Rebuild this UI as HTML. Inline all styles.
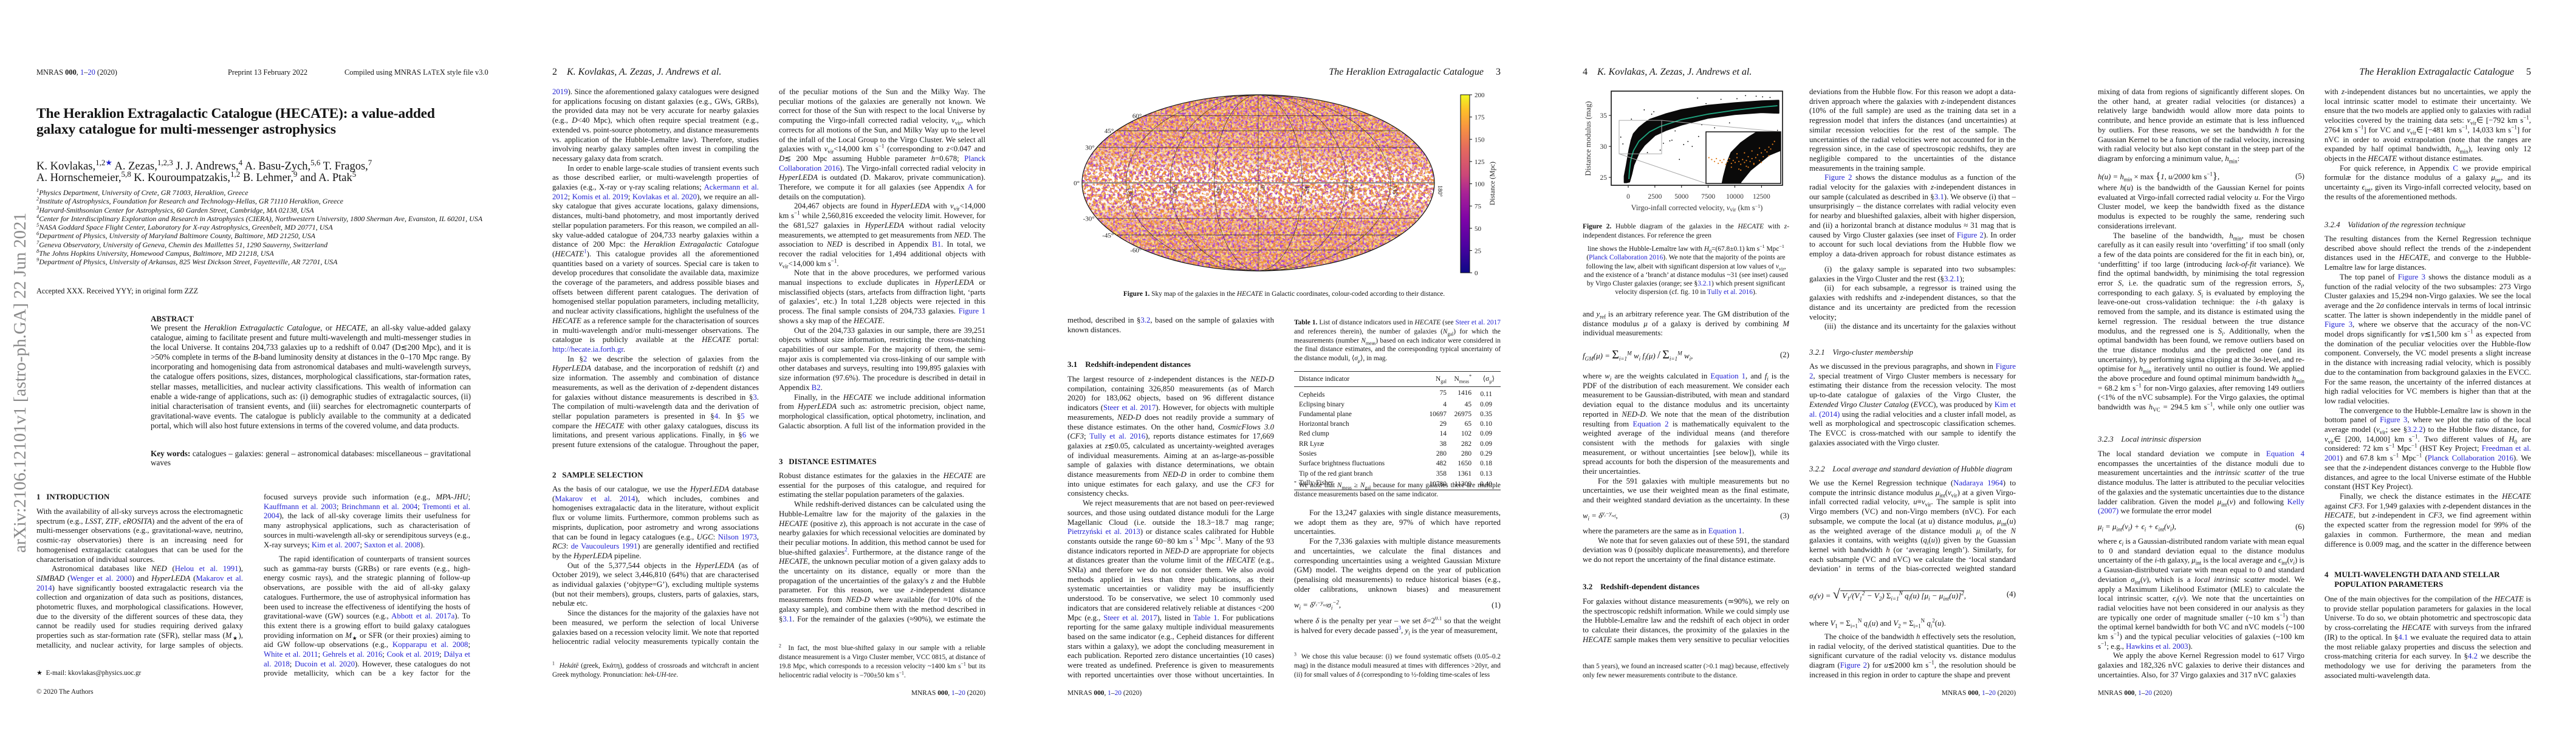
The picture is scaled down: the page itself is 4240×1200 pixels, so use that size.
<!DOCTYPE html>
<html><head><meta charset="utf-8"><title>HECATE paper pages</title>
<style>
html,body{margin:0;padding:0;background:#fff}
body{width:4240px;height:1200px;position:relative;overflow:hidden;font-family:"Liberation Serif",serif;color:#141414}
.page{position:absolute;top:0;width:848px;height:1200px}
.tx{position:absolute;width:340px;font-size:12.8px;line-height:15.7px;text-align:justify;overflow:hidden}
.tx p{margin:0}
.in{text-indent:25px}
a.c{color:#2323d2;text-decoration:none}
sub,sup{font-size:70%;line-height:0}
.h{position:absolute;font-weight:bold;font-size:13px;line-height:16px;white-space:nowrap}
.hi{position:absolute;font-style:italic;font-size:12.8px;line-height:16px;white-space:nowrap}
.run{position:absolute;top:109px;font-style:italic;font-size:16px;line-height:20px;white-space:nowrap}
.foot{position:absolute;top:1134px;font-size:11.4px;line-height:15px;white-space:nowrap}
.fn{position:absolute;width:340px;font-size:11.2px;line-height:15px;text-align:justify;overflow:hidden}
.eq{position:absolute;width:340px;font-size:12.8px;line-height:16px;font-style:italic;white-space:nowrap}
.eq span.n{position:absolute;right:0;font-style:normal}
.cap{position:absolute;font-size:11.4px;line-height:14.5px;text-align:justify;overflow:hidden}
table.t1{position:absolute;border-collapse:collapse;font-size:11.4px;line-height:14.3px}
</style></head>
<body>

<!-- PAGE 1 -->
<div class="page" style="left:0">
  <svg style="position:absolute;left:6px;top:350px" width="44" height="560">
    <text x="0" y="0" transform="translate(36,560) rotate(-90)" font-family="Liberation Serif" font-size="29" fill="#8a8a8a" textLength="560" lengthAdjust="spacingAndGlyphs">arXiv:2106.12101v1  [astro-ph.GA]  22 Jun 2021</text>
  </svg>
  <div style="position:absolute;left:60px;top:111px;font-size:12.4px;line-height:16px;white-space:nowrap">MNRAS <b>000</b>, <a class="c">1</a>–<a class="c">20</a> (2020)</div>
  <div style="position:absolute;left:375px;top:111px;font-size:12.4px;line-height:16px;white-space:nowrap">Preprint 13 February 2022</div>
  <div style="position:absolute;left:567px;top:111px;width:208px;text-align:right;font-size:12.4px;line-height:16px;white-space:nowrap">Compiled using MNRAS L<span style="font-size:9px">A</span>T<span style="font-size:10px">E</span>X style file v3.0</div>
  <div style="position:absolute;left:60px;top:175px;font-size:23.5px;line-height:25.5px;font-weight:bold;white-space:nowrap;letter-spacing:-0.2px">The Heraklion Extragalactic Catalogue (HECATE): a value-added<br>galaxy catalogue for multi-messenger astrophysics</div>
  <div style="position:absolute;left:60px;top:265px;font-size:18.5px;line-height:18.5px;white-space:nowrap">K. Kovlakas,<sup>1,2<span style="color:#2323d2">★</span></sup> A. Zezas,<sup>1,2,3</sup> J. J. Andrews,<sup>4</sup> A. Basu-Zych,<sup>5,6</sup> T. Fragos,<sup>7</sup><br>A. Hornschemeier,<sup>5,8</sup> K. Kouroumpatzakis,<sup>1,2</sup> B. Lehmer,<sup>9</sup> and A. Ptak<sup>5</sup></div>
  <div style="position:absolute;left:60px;top:310px;font-size:12px;line-height:14.25px;font-style:italic;white-space:nowrap">
<sup>1</sup>Physics Department, University of Crete, GR 71003, Heraklion, Greece<br>
<sup>2</sup>Institute of Astrophysics, Foundation for Research and Technology-Hellas, GR 71110 Heraklion, Greece<br>
<sup>3</sup>Harvard-Smithsonian Center for Astrophysics, 60 Garden Street, Cambridge, MA 02138, USA<br>
<sup>4</sup>Center for Interdisciplinary Exploration and Research in Astrophysics (CIERA), Northwestern University, 1800 Sherman Ave, Evanston, IL 60201, USA<br>
<sup>5</sup>NASA Goddard Space Flight Center, Laboratory for X-ray Astrophysics, Greenbelt, MD 20771, USA<br>
<sup>6</sup>Department of Physics, University of Maryland Baltimore County, Baltimore, MD 21250, USA<br>
<sup>7</sup>Geneva Observatory, University of Geneva, Chemin des Maillettes 51, 1290 Sauverny, Switzerland<br>
<sup>8</sup>The Johns Hopkins University, Homewood Campus, Baltimore, MD 21218, USA<br>
<sup>9</sup>Department of Physics, University of Arkansas, 825 West Dickson Street, Fayetteville, AR 72701, USA</div>
  <div style="position:absolute;left:60px;top:471px;font-size:12.3px;line-height:16px;white-space:nowrap">Accepted XXX. Received YYY; in original form ZZZ</div>
  <div class="h" style="left:248px;top:517px">ABSTRACT</div>
  <div class="tx" style="left:248px;top:532px;width:527px;height:210px;font-size:13.2px;line-height:16.1px"><p>We present the <i>Heraklion Extragalactic Catalogue</i>, or <i>HECATE</i>, an all-sky value-added galaxy catalogue, aiming to facilitate present and future multi-wavelength and multi-messenger studies in the local Universe. It contains 204,733 galaxies up to a redshift of 0.047 (D≲200 Mpc), and it is &gt;50% complete in terms of the <i>B</i>-band luminosity density at distances in the 0–170 Mpc range. By incorporating and homogenising data from astronomical databases and multi-wavelength surveys, the catalogue offers positions, sizes, distances, morphological classifications, star-formation rates, stellar masses, metallicities, and nuclear activity classifications. This wealth of information can enable a wide-range of applications, such as: (i) demographic studies of extragalactic sources, (ii) initial characterisation of transient events, and (iii) searches for electromagnetic counterparts of gravitational-wave events. The catalogue is publicly available to the community at a dedicated portal, which will also host future extensions in terms of the covered volume, and data products.</p></div>
  <div class="tx" style="left:248px;top:739px;width:527px;height:32px;font-size:13.2px;line-height:15px"><p><b>Key words:</b> catalogues – galaxies: general – astronomical databases: miscellaneous – gravitational waves</p></div>
  <div class="h" style="left:60px;top:810px">1&nbsp;&nbsp;&nbsp;INTRODUCTION</div>
  <div class="tx" style="left:60px;top:835px;height:236px"><p>With the availability of all-sky surveys across the electromagnetic spectrum (e.g., <i>LSST</i>, <i>ZTF</i>, <i>eROSITA</i>) and the advent of the era of multi-messenger observations (e.g., gravitational-wave, neutrino, cosmic-ray observatories) there is an increasing need for homogenised extragalactic catalogues that can be used for the characterisation of individual sources.</p><p class="in">Astronomical databases like <i>NED</i> (<a class="c">Helou et al. 1991</a>), <i>SIMBAD</i> (<a class="c">Wenger et al. 2000</a>) and <i>HyperLEDA</i> (<a class="c">Makarov et al. 2014</a>) have significantly boosted extragalactic research via the collection and organization of data such as positions, distances, photometric fluxes, and morphological classifications. However, due to the diversity of the different sources of these data, they cannot be readily used for studies requiring derived galaxy properties such as star-formation rate (SFR), stellar mass (<i>M</i><sub>★</sub>), metallicity, and nuclear activity, for large samples of objects. Although detailed catalogues based on</p></div>
  <div class="fn" style="left:60px;top:1101px">★&nbsp; E-mail: kkovlakas@physics.uoc.gr</div>
  <div class="foot" style="left:60px;top:1132px">© 2020 The Authors</div>
  <div class="tx" style="left:434px;top:811px;height:95px"><p>focused surveys provide such information (e.g., <i>MPA-JHU</i>; <a class="c">Kauffmann et al. 2003</a>; <a class="c">Brinchmann et al. 2004</a>; <a class="c">Tremonti et al. 2004</a>), the lack of all-sky coverage limits their usefulness for many astrophysical applications, such as characterisation of sources in multi-wavelength all-sky or serendipitous surveys (e.g., X-ray surveys; <a class="c">Kim et al. 2007</a>; <a class="c">Saxton et al. 2008</a>).</p></div>
  <div class="tx" style="left:434px;top:913px;height:205px"><p class="in">The rapid identification of counterparts of transient sources such as gamma-ray bursts (GRBs) or rare events (e.g., high-energy cosmic rays), and the strategic planning of follow-up observations, are possible with the aid of all-sky galaxy catalogues. Furthermore, the use of astrophysical information has been used to increase the effectiveness of identifying the hosts of gravitational-wave (GW) sources (e.g., <a class="c">Abbott et al. 2017a</a>). To this extent there is a growing effort to build galaxy catalogues providing information on <i>M</i><sub>★</sub> or SFR (or their proxies) aiming to aid GW follow-up observations (e.g., <a class="c">Kopparapu et al. 2008</a>; <a class="c">White et al. 2011</a>; <a class="c">Gehrels et al. 2016</a>; <a class="c">Cook et al. 2019</a>; <a class="c">Dálya et al. 2018</a>; <a class="c">Ducoin et al. 2020</a>). However, these catalogues do not provide metallicity, which can be a key factor for the identification of GW hosts (e.g., <a class="c">Artale et al.</a></p></div>
</div>

<!-- PAGE 2 -->
<div class="page" style="left:848px">
  <div class="run" style="left:61px"><span style="font-style:normal">2</span>&nbsp;&nbsp;&nbsp;&nbsp;K. Kovlakas, A. Zezas, J. Andrews et al.</div>
  <div class="tx" style="left:61px;top:144px;height:597px"><p><a class="c">2019</a>). Since the aforementioned galaxy catalogues were designed for applications focusing on distant galaxies (e.g., GWs, GRBs), the provided data may not be very accurate for nearby galaxies (e.g., <i>D</i>&lt;40 Mpc), which often require special treatment (e.g., extended vs. point-source photometry, and distance measurements vs. application of the Hubble-Lemaître law). Therefore, studies involving nearby galaxy samples often invest in compiling the necessary galaxy data from scratch.</p><p class="in">In order to enable large-scale studies of transient events such as those described earlier, or multi-wavelength properties of galaxies (e.g., X-ray or γ-ray scaling relations; <a class="c">Ackermann et al. 2012</a>; <a class="c">Komis et al. 2019</a>; <a class="c">Kovlakas et al. 2020</a>), we require an all-sky catalogue that gives accurate locations, galaxy dimensions, distances, multi-band photometry, and most importantly derived stellar population parameters. For this reason, we compiled an all-sky value-added catalogue of 204,733 nearby galaxies within a distance of 200 Mpc: the <i>Heraklion Extragalactic Catalogue</i> (<i>HECATE</i><sup><a class="c">1</a></sup>). This catalogue provides all the aforementioned quantities based on a variety of sources. Special care is taken to develop procedures that consolidate the available data, maximize the coverage of the parameters, and address possible biases and offsets between different parent catalogues. The derivation of homogenised stellar population parameters, including metallicity, and nuclear activity classifications, highlight the usefulness of the <i>HECATE</i> as a reference sample for the characterisation of sources in multi-wavelength and/or multi-messenger observations. The catalogue is publicly available at the <i>HECATE</i> portal: <a class="c">http://hecate.ia.forth.gr</a>.</p><p class="in">In §<a class="c">2</a> we describe the selection of galaxies from the <i>HyperLEDA</i> database, and the incorporation of redshift (<i>z</i>) and size information. The assembly and combination of distance measurements, as well as the derivation of <i>z</i>-dependent distances for galaxies without distance measurements is described in §<a class="c">3</a>. The compilation of multi-wavelength data and the derivation of stellar population parameters is presented in §<a class="c">4</a>. In §<a class="c">5</a> we compare the <i>HECATE</i> with other galaxy catalogues, discuss its limitations, and present various applications. Finally, in §<a class="c">6</a> we present future extensions of the catalogue. Throughout the paper, unless stated otherwise, uncertainties correspond to 68% confidence intervals.</p></div>
  <div class="h" style="left:61px;top:774px">2&nbsp;&nbsp;&nbsp;SAMPLE SELECTION</div>
  <div class="tx" style="left:61px;top:798px;height:267px"><p>As the basis of our catalogue, we use the <i>HyperLEDA</i> database (<a class="c">Makarov et al. 2014</a>), which includes, combines and homogenises extragalactic data in the literature, without explicit flux or volume limits. Furthermore, common problems such as misprints, duplication, poor astrometry and wrong associations that can be found in legacy catalogues (e.g., <i>UGC</i>: <a class="c">Nilson 1973</a>, <i>RC3</i>: <a class="c">de Vaucouleurs 1991</a>) are generally identified and rectified by the <i>HyperLEDA</i> pipeline.</p><p class="in">Out of the 5,377,544 objects in the <i>HyperLEDA</i> (as of October 2019), we select 3,446,810 (64%) that are characterised as individual galaxies (‘objtype=G’), excluding multiple systems (but not their members), groups, clusters, parts of galaxies, stars, nebulæ etc.</p><p class="in">Since the distances for the majority of the galaxies have not been measured, we perform the selection of local Universe galaxies based on a recession velocity limit. We note that reported heliocentric radial velocity measurements typically contain the components</p></div>
  <div class="fn" style="left:61px;top:1089px"><sup>1</sup>&nbsp; <i>Hekátē</i> (greek, Εκάτη), goddess of crossroads and witchcraft in ancient Greek mythology. Pronunciation: <i>hek-UH-tee</i>.</div>
  <div class="tx" style="left:434px;top:144px;height:566px"><p>of the peculiar motions of the Sun and the Milky Way. The peculiar motions of the galaxies are generally not known. We correct for those of the Sun with respect to the local Universe by computing the Virgo-infall corrected radial velocity, <i>v</i><sub>vir</sub>, which corrects for all motions of the Sun, and Milky Way up to the level of the infall of the Local Group to the Virgo Cluster. We select all galaxies with <i>v</i><sub>vir</sub>&lt;14,000 km s<sup>−1</sup> (corresponding to <i>z</i>&lt;0.047 and <i>D</i>≲ 200 Mpc assuming Hubble parameter <i>h</i>=0.678; <a class="c">Planck Collaboration 2016</a>). The Virgo-infall corrected radial velocity in <i>HyperLEDA</i> is outdated (D. Makarov, private communication). Therefore, we compute it for all galaxies (see Appendix <a class="c">A</a> for details on the computation).</p><p class="in">204,467 objects are found in <i>HyperLEDA</i> with <i>v</i><sub>vir</sub>&lt;14,000 km s<sup>−1</sup> while 2,560,816 exceeded the velocity limit. However, for the 681,527 galaxies in <i>HyperLEDA</i> without radial velocity measurements, we attempted to get measurements from <i>NED</i>. The association to <i>NED</i> is described in Appendix <a class="c">B1</a>. In total, we recover the radial velocities for 1,494 additional objects with <i>v</i><sub>vir</sub>&lt;14,000 km s<sup>−1</sup>.</p><p class="in">Note that in the above procedures, we performed various manual inspections to exclude duplicates in <i>HyperLEDA</i> or misclassified objects (stars, artefacts from diffraction light, ‘parts of galaxies’, etc.) In total 1,228 objects were rejected in this process. The final sample consists of 204,733 galaxies. <a class="c">Figure 1</a> shows a sky map of the <i>HECATE</i>.</p><p class="in">Out of the 204,733 galaxies in our sample, there are 39,251 objects without size information, restricting the cross-matching capabilities of our sample. For the majority of them, the semi-major axis is complemented via cross-linking of our sample with other databases and surveys, resulting into 199,895 galaxies with size information (97.6%). The procedure is described in detail in Appendix <a class="c">B2</a>.</p><p class="in">Finally, in the <i>HECATE</i> we include additional information from <i>HyperLEDA</i> such as: astrometric precision, object name, morphological classification, optical photometry, inclination, and Galactic absorption. A full list of the information provided in the <i>HECATE</i> is given in Appendix <a class="c">D</a>.</p></div>
  <div class="h" style="left:434px;top:752px">3&nbsp;&nbsp;&nbsp;DISTANCE ESTIMATES</div>
  <div class="tx" style="left:434px;top:776px;height:252px"><p>Robust distance estimates for the galaxies in the <i>HECATE</i> are essential for the purposes of this catalogue, and required for estimating the stellar population parameters of the galaxies.</p><p class="in">While redshift-derived distances can be calculated using the Hubble-Lemaître law for the majority of the galaxies in the <i>HECATE</i> (positive <i>z</i>), this approach is not accurate in the case of nearby galaxies for which recessional velocities are dominated by their peculiar motions. In addition, this method cannot be used for blue-shifted galaxies<sup><a class="c">2</a></sup>. Furthermore, at the distance range of the <i>HECATE</i>, the unknown peculiar motion of a given galaxy adds to the uncertainty on its distance, equally or more than the propagation of the uncertainties of the galaxy's <i>z</i> and the Hubble parameter. For this reason, we use <i>z</i>-independent distance measurements from <i>NED-D</i> where available (for ≈10% of the galaxy sample), and combine them with the method described in §<a class="c">3.1</a>. For the remainder of the galaxies (≈90%), we estimate the distance of the galaxies using a regression</p></div>
  <div class="fn" style="left:434px;top:1060px"><sup>2</sup>&nbsp; In fact, the most blue-shifted galaxy in our sample with a reliable distance measurement is a Virgo Cluster member, VCC 0815, at distance of 19.8 Mpc, which corresponds to a recession velocity ~1400 km s<sup>−1</sup> but its heliocentric radial velocity is −700±50 km s<sup>−1</sup>.</div>
  <div class="foot" style="left:434px;width:340px;text-align:right">MNRAS <b>000</b>, <a class="c">1</a>–<a class="c">20</a> (2020)</div>
</div>

<!-- PAGE 3 -->
<div class="page" style="left:1696px">
  <div class="run" style="left:400px;width:374px;text-align:right">The Heraklion Extragalactic Catalogue&nbsp;&nbsp;&nbsp;&nbsp;&nbsp;<span style="font-style:normal">3</span></div>
  <div class="cap" style="left:61px;top:477px;width:713px;text-align:center;white-space:nowrap"><b>Figure 1.</b> Sky map of the galaxies in the <i>HECATE</i> in Galactic coordinates, colour-coded according to their distance.</div>
  <div class="tx" style="left:61px;top:520px;height:32px"><p>method, described in §<a class="c">3.2</a>, based on the sample of galaxies with known distances.</p></div>
  <div class="h" style="left:61px;top:592px">3.1&nbsp;&nbsp;&nbsp;&nbsp;Redshift-independent distances</div>
  <div class="tx" style="left:61px;top:617px;height:503px"><p>The largest resource of <i>z</i>-independent distances is the <i>NED-D</i> compilation, containing 326,850 measurements (as of March 2020) for 183,062 objects, based on 96 different distance indicators (<a class="c">Steer et al. 2017</a>). However, for objects with multiple measurements, <i>NED-D</i> does not readily provide a summary of these distance estimates. On the other hand, <i>CosmicFlows 3.0</i> (<i>CF3</i>; <a class="c">Tully et al. 2016</a>), reports distance estimates for 17,669 galaxies at <i>z</i>≲0.05, calculated as uncertainty-weighted averages of individual measurements. Aiming at an as-large-as-possible sample of galaxies with distance determinations, we obtain distance measurements from <i>NED-D</i> in order to combine them into unique estimates for each galaxy, and use the <i>CF3</i> for consistency checks.</p><p class="in">We reject measurements that are not based on peer-reviewed sources, and those using outdated distance moduli for the Large Magellanic Cloud (i.e. outside the 18.3−18.7 mag range; <a class="c">Pietrzyński et al. 2013</a>) or distance scales calibrated for Hubble constants outside the range 60−80 km s<sup>−1</sup> Mpc<sup>−1</sup>. Many of the 93 distance indicators reported in <i>NED-D</i> are appropriate for objects at distances greater than the volume limit of the <i>HECATE</i> (e.g., SNIa) and therefore we do not consider them. We also avoid methods applied in less than three publications, as their systematic uncertainties or validity may be insufficiently understood. To be conservative, we select 10 commonly used indicators that are considered relatively reliable at distances &lt;200 Mpc (e.g., <a class="c">Steer et al. 2017</a>), listed in <a class="c">Table 1</a>. For publications reporting for the same galaxy multiple individual measurements based on the same indicator (e.g., Cepheid distances for different stars within a galaxy), we adopt the concluding measurement in each publication. Reported zero distance uncertainties (10 cases) were treated as undefined. Preference is given to measurements with reported uncertainties over those without uncertainties. In total, we associate 43,511 distance measurements with 21,174 galaxies in the <i>HECATE</i>.</p></div>
  <div class="cap" style="left:434px;top:524px;width:340px;line-height:14.8px"><b>Table 1.</b> List of distance indicators used in <i>HECATE</i> (see <a class="c">Steer et al. 2017</a> and references therein), the number of galaxies (<i>N</i><sub>gal</sub>) for which the measurements (number <i>N</i><sub>meas</sub>) based on each indicator were considered in the final distance estimates, and the corresponding typical uncertainty of the distance moduli, ⟨<i>σ<sub>μ</sub></i>⟩, in mag.</div>
  <table class="t1" style="left:434px;top:611px;width:340px">
    <tr style="border-top:1px solid #333;border-bottom:1px solid #333"><td style="padding:5px 8px 5px 8px">Distance indicator</td><td style="text-align:right">N<sub>gal</sub></td><td style="text-align:right">N<sub>meas</sub><sup>*</sup></td><td style="text-align:right;padding-right:10px">⟨σ<sub>μ</sub>⟩</td></tr>
    <tr><td style="padding:5px 8px 0">Cepheids</td><td style="text-align:right">75</td><td style="text-align:right">1416</td><td style="text-align:right;padding-right:14px;padding-top:5px">0.11</td></tr>
    <tr><td style="padding:0 8px">Eclipsing binary</td><td style="text-align:right">4</td><td style="text-align:right">45</td><td style="text-align:right;padding-right:14px">0.09</td></tr>
    <tr><td style="padding:0 8px">Fundamental plane</td><td style="text-align:right">10697</td><td style="text-align:right">26975</td><td style="text-align:right;padding-right:14px">0.35</td></tr>
    <tr><td style="padding:0 8px">Horizontal branch</td><td style="text-align:right">29</td><td style="text-align:right">65</td><td style="text-align:right;padding-right:14px">0.10</td></tr>
    <tr><td style="padding:0 8px">Red clump</td><td style="text-align:right">14</td><td style="text-align:right">102</td><td style="text-align:right;padding-right:14px">0.09</td></tr>
    <tr><td style="padding:0 8px">RR Lyræ</td><td style="text-align:right">38</td><td style="text-align:right">282</td><td style="text-align:right;padding-right:14px">0.09</td></tr>
    <tr><td style="padding:0 8px">Sosies</td><td style="text-align:right">280</td><td style="text-align:right">280</td><td style="text-align:right;padding-right:14px">0.29</td></tr>
    <tr><td style="padding:0 8px">Surface brightness fluctuations</td><td style="text-align:right">482</td><td style="text-align:right">1650</td><td style="text-align:right;padding-right:14px">0.18</td></tr>
    <tr><td style="padding:0 8px">Tip of the red giant branch</td><td style="text-align:right">358</td><td style="text-align:right">1361</td><td style="text-align:right;padding-right:14px">0.13</td></tr>
    <tr style="border-bottom:1px solid #333"><td style="padding:0 8px 4px">Tully-Fisher</td><td style="text-align:right">10780</td><td style="text-align:right">11309</td><td style="text-align:right;padding-right:14px">0.40</td></tr>
  </table>
  <div class="cap" style="left:434px;top:792px;width:340px;line-height:14.5px"><sup>*</sup> We note that <i>N</i><sub>meas</sub> ≥ <i>N</i><sub>gal</sub> because for many galaxies there are multiple distance measurements based on the same indicator.</div>
  <div class="tx" style="left:434px;top:837px;height:142px"><p class="in">For the 13,247 galaxies with single distance measurements, we adopt them as they are, 97% of which have reported uncertainties.</p><p class="in">For the 7,336 galaxies with multiple distance measurements and uncertainties, we calculate the final distances and corresponding uncertainties using a weighted Gaussian Mixture (GM) model. The weights depend on the year of publication (penalising old measurements) to reduce historical biases (e.g., older calibrations, unknown biases) and measurement uncertainties. The weight for the <i>i</i>-th measurement is:</p></div>
  <div class="eq" style="left:434px;top:988px">w<sub>i</sub> = δ<sup>y<sub>i</sub>−y<sub>ref</sub></sup>σ<sub>i</sub><sup>−2</sup>,<span class="n">(1)</span></div>
  <div class="tx" style="left:434px;top:1015px;height:32px"><p>where <i>δ</i> is the penalty per year – we set <i>δ</i>=2<sup>0.1</sup> so that the weight is halved for every decade passed<sup><a class="c">3</a></sup>, <i>y<sub>i</sub></i> is the year of measurement,</p></div>
  <div class="fn" style="left:434px;top:1074px;height:46px"><sup>3</sup>&nbsp; We chose this value because: (i) we found systematic offsets (0.05–0.2 mag) in the distance moduli measured at times with differences &gt;20yr, and (ii) for small values of <i>δ</i> (corresponding to ½-folding time-scales of less</div>
  <div class="foot" style="left:61px">MNRAS <b>000</b>, <a class="c">1</a>–<a class="c">20</a> (2020)</div>
</div>

<!-- PAGE 4 -->
<div class="page" style="left:2544px">
  <div class="run" style="left:61px"><span style="font-style:normal">4</span>&nbsp;&nbsp;&nbsp;&nbsp;K. Kovlakas, A. Zezas, J. Andrews et al.</div>
  <div class="cap" style="left:61px;top:366px;width:340px;height:30px"><b>Figure 2.</b> Hubble diagram of the galaxies in the <i>HECATE</i> with <i>z</i>-independent distances. For reference the green</div>
  <div class="cap" style="left:61px;top:403px;width:340px;text-align:center;line-height:14.3px">line shows the Hubble-Lemaître law with <i>H</i><sub>0</sub>=(67.8±0.1) km s<sup>−1</sup> Mpc<sup>−1</sup> (<a class="c">Planck Collaboration 2016</a>). We note that the majority of the points are following the law, albeit with significant dispersion at low values of <i>v</i><sub>vir</sub>, and the existence of a ‘branch’ at distance modulus ~31 (see inset) caused by Virgo Cluster galaxies (orange; see §<a class="c">3.2.1</a>) which present significant velocity dispersion (cf. fig. 10 in <a class="c">Tully et al. 2016</a>).</div>
  <div class="tx" style="left:61px;top:510px;height:48px"><p>and <i>y</i><sub>ref</sub> is an arbitrary reference year. The GM distribution of the distance modulus <i>μ</i> of a galaxy is derived by combining <i>M</i> individual measurements:</p></div>
  <div class="eq" style="left:61px;top:576px;font-size:13px">f<sub>GM</sub>(μ) = <span style="font-style:normal;font-size:20px">Σ</span><sub>i=1</sub><sup>M</sup> w<sub>i</sub> f<sub>i</sub>(μ) <span style="font-style:normal;font-size:18px">/</span> <span style="font-style:normal;font-size:20px">Σ</span><sub>i=1</sub><sup>M</sup> w<sub>i</sub>,<span class="n">(2)</span></div>
  <div class="tx" style="left:61px;top:612px;height:220px"><p>where <i>w<sub>i</sub></i> are the weights calculated in <a class="c">Equation 1</a>, and <i>f<sub>i</sub></i> is the PDF of the distribution of each measurement. We consider each measurement to be Gaussian-distributed, with mean and standard deviation equal to the distance modulus and its uncertainty reported in <i>NED-D</i>. We note that the mean of the distribution resulting from <a class="c">Equation 2</a> is mathematically equivalent to the weighted average of the individual means (and therefore consistent with the methods for galaxies with single measurement, or without uncertainties [see below]), while its spread accounts for both the dispersion of the measurements and their uncertainties.</p><p class="in">For the 591 galaxies with multiple measurements but no uncertainties, we use their weighted mean as the final estimate, and their weighted standard deviation as the uncertainty. In these cases, the weights are:</p></div>
  <div class="eq" style="left:61px;top:841px">w<sub>i</sub> = δ<sup>y<sub>i</sub>−y<sub>ref</sub></sup>,<span class="n">(3)</span></div>
  <div class="tx" style="left:61px;top:867px;height:63px"><p>where the parameters are the same as in <a class="c">Equation 1</a>.</p><p class="in">We note that for seven galaxies out of these 591, the standard deviation was 0 (possibly duplicate measurements), and therefore we do not report the uncertainty of the final distance estimate.</p></div>
  <div class="h" style="left:61px;top:958px">3.2&nbsp;&nbsp;&nbsp;&nbsp;Redshift-dependent distances</div>
  <div class="tx" style="left:61px;top:983px;height:79px"><p>For galaxies without distance measurements (≃90%), we rely on the spectroscopic redshift information. While we could simply use the Hubble-Lemaître law and the redshift of each object in order to calculate their distances, the proximity of the galaxies in the <i>HECATE</i> sample makes them very sensitive to peculiar velocities and local</p></div>
  <div class="fn" style="left:61px;top:1090px">than 5 years), we found an increased scatter (&gt;0.1 mag) because, effectively only few newer measurements contribute to the distance.</div>
  <div class="tx" style="left:434px;top:144px;height:283px"><p>deviations from the Hubble flow. For this reason we adopt a data-driven approach where the galaxies with <i>z</i>-independent distances (10% of the full sample) are used as the training data set in a regression model that infers the distances (and uncertainties) at similar recession velocities for the rest of the sample. The uncertainties of the radial velocities were not accounted for in the regression since, in the case of spectroscopic redshifts, they are negligible compared to the uncertainties of the distance measurements in the training sample.</p><p class="in"><a class="c">Figure 2</a> shows the distance modulus as a function of the radial velocity for the galaxies with <i>z</i>-independent distances in our sample (calculated as described in §<a class="c">3.1</a>). We observe (i) that – unsurprisingly – the distance correlates with radial velocity even for nearby and blueshifted galaxies, albeit with higher dispersion, and (ii) a horizontal branch at distance modulus ≈ 31 mag that is caused by Virgo Cluster galaxies (see inset of <a class="c">Figure 2</a>). In order to account for such local deviations from the Hubble flow we employ a data-driven approach for robust distance estimates as follows:</p></div>
  <div class="tx" style="left:434px;top:436px;height:111px"><p class="in">(i)&nbsp; the galaxy sample is separated into two subsamples: galaxies in the Virgo Cluster and the rest (§<a class="c">3.2.1</a>);</p><p class="in">(ii)&nbsp; for each subsample, a regressor is trained using the galaxies with redshifts and <i>z</i>-independent distances, so that the distance and its uncertainty are predicted from the recession velocity;</p><p class="in">(iii)&nbsp; the distance and its uncertainty for the galaxies without <i>z</i>-independent measurements, is predicted using the two regressors.</p></div>
  <div class="hi" style="left:434px;top:572px">3.2.1&nbsp;&nbsp;&nbsp;&nbsp;Virgo-cluster membership</div>
  <div class="tx" style="left:434px;top:596px;height:142px"><p>As we discussed in the previous paragraphs, and shown in <a class="c">Figure 2</a>, special treatment of Virgo Cluster members is necessary for estimating their distance from the recession velocity. The most up-to-date catalogue of galaxies of the Virgo Cluster, the <i>Extended Virgo Cluster Catalog</i> (<i>EVCC</i>), was produced by <a class="c">Kim et al. (2014)</a> using the radial velocities and a cluster infall model, as well as morphological and spectroscopic classification schemes. The EVCC is cross-matched with our sample to identify the galaxies associated with the Virgo cluster.</p></div>
  <div class="hi" style="left:434px;top:764px">3.2.2&nbsp;&nbsp;&nbsp;&nbsp;Local average and standard deviation of Hubble diagram</div>
  <div class="tx" style="left:434px;top:788px;height:158px"><p>We use the Kernel Regression technique (<a class="c">Nadaraya 1964</a>) to compute the intrinsic distance modulus <i>μ</i><sub>int</sub>(<i>v</i><sub>vir</sub>) at a given Virgo-infall corrected radial velocity, <i>u</i>≡<i>v</i><sub>vir</sub>. The sample is split into Virgo members (VC) and non-Virgo members (nVC). For each subsample, we compute the local (at <i>u</i>) distance modulus, <i>μ</i><sub>int</sub>(<i>u</i>) as the weighted average of the distance moduli <i>μ<sub>i</sub></i> of the <i>N</i> galaxies it contains, with weights (<i>q<sub>i</sub></i>(<i>u</i>)) given by the Guassian kernel with bandwidth <i>h</i> (or ‘averaging length’). Similarly, for each subsample (VC and nVC) we calculate the ‘local standard deviation’ in terms of the bias-corrected weighted standard deviation:</p></div>
  <div class="eq" style="left:434px;top:970px;font-size:13px">σ<sub>l</sub>(v) = <span style="font-style:normal;font-size:22px">√</span><span style="border-top:1px solid #222">&nbsp;V<sub>1</sub>/(V<sub>1</sub><sup>2</sup> − V<sub>2</sub>) <span style="font-style:normal">Σ</span><sub>i=1</sub><sup>N</sup> q<sub>i</sub>(u) [μ<sub>i</sub> − μ<sub>int</sub>(u)]<sup>2</sup></span>,<span class="n">(4)</span></div>
  <div class="eq" style="left:434px;top:1018px;font-style:normal">where <i>V</i><sub>1</sub> = Σ<sub>i=1</sub><sup>N</sup> <i>q<sub>i</sub></i>(<i>u</i>) and <i>V</i><sub>2</sub> = Σ<sub>i=1</sub><sup>N</sup> <i>q<sub>i</sub></i><sup>2</sup>(<i>u</i>).</div>
  <div class="tx" style="left:434px;top:1041px;height:79px"><p class="in">The choice of the bandwidth <i>h</i> effectively sets the resolution, in radial velocity, of the derived statistical quantities. Due to the significant curvature of the radial velocity vs. distance modulus diagram (<a class="c">Figure 2</a>) for <i>u</i>≲2000 km s<sup>−1</sup>, the resolution should be increased in this region in order to capture the shape and prevent</p></div>
  <div class="foot" style="left:434px;width:340px;text-align:right">MNRAS <b>000</b>, <a class="c">1</a>–<a class="c">20</a> (2020)</div>
</div>

<!-- PAGE 5 -->
<div class="page" style="left:3392px">
  <div class="run" style="left:400px;width:374px;text-align:right">The Heraklion Extragalactic Catalogue&nbsp;&nbsp;&nbsp;&nbsp;&nbsp;<span style="font-style:normal">5</span></div>
  <div class="tx" style="left:61px;top:144px;height:126px"><p>mixing of data from regions of significantly different slopes. On the other hand, at greater radial velocities (or distances) a relatively large bandwidth would allow more data points to contribute, and hence provide an estimate that is less influenced by outliers. For these reasons, we set the bandwidth <i>h</i> for the Gaussian Kernel to be a function of the radial velocity, increasing with radial velocity but also kept constant in the steep part of the diagram by enforcing a minimum value, <i>h</i><sub>min</sub>:</p></div>
  <div class="eq" style="left:61px;top:282px">h(u) = h<sub>min</sub> <span style="font-style:normal">× max</span> <span style="font-style:normal;font-size:17px">{</span>1, u/2000 <span style="font-style:normal">km s<sup>−1</sup></span><span style="font-style:normal;font-size:17px">}</span>,<span class="n">(5)</span></div>
  <div class="tx" style="left:61px;top:302px;height:377px"><p>where <i>h</i>(<i>u</i>) is the bandwidth of the Gaussian Kernel for points evaluated at Virgo-infall corrected radial velocity <i>u</i>. For the Virgo Cluster model, we keep the bandwidth fixed as the distance modulus is expected to be roughly the same, rendering such considerations irrelevant.</p><p class="in">The baseline of the bandwidth, <i>h</i><sub>min</sub>, must be chosen carefully as it can easily result into ‘overfitting’ if too small (only a few of the data points are considered for the fit in each bin), or, ‘underfitting’ if too large (introducing <i>lack-of-fit</i> variance). We find the optimal bandwidth, by minimising the total regression error <i>S</i>, i.e. the quadratic sum of the regression errors, <i>S<sub>i</sub></i>, corresponding to each galaxy. <i>S<sub>i</sub></i> is evaluated by employing the leave-one-out cross-validation technique: the <i>i</i>-th galaxy is removed from the sample, and its distance is estimated using the kernel regression. The residual between the true distance modulus, and the regressed one is <i>S<sub>i</sub></i>. Additionally, when the optimal bandwidth has been found, we remove outliers based on the true distance modulus and the predicted one (and its uncertainty), by performing sigma clipping at the 3<i>σ</i>-level, and re-optimise for <i>h</i><sub>min</sub> iteratively until no outlier is found. We applied the above procedure and found optimal minimum bandwidth <i>h</i><sub>min</sub> = 68.2 km s<sup>−1</sup> for non-Virgo galaxies, after removing 149 outliers (&lt;1% of the nVC subsample). For the Virgo galaxies, the optimal bandwidth was <i>h</i><sub>VC</sub> = 294.5 km s<sup>−1</sup>, while only one outlier was found (&lt;1% of the VC subsample).</p></div>
  <div class="hi" style="left:61px;top:715px">3.2.3&nbsp;&nbsp;&nbsp;&nbsp;Local intrinsic dispersion</div>
  <div class="tx" style="left:61px;top:740px;height:110px"><p>The local standard deviation we compute in <a class="c">Equation 4</a> encompasses the uncertainties of the distance moduli due to measurement uncertainties and the <i>intrinsic scatter</i> of the true distance modulus. The latter is attributed to the peculiar velocities of the galaxies and the systematic uncertainties due to the distance ladder calibration. Given the model <i>μ</i><sub>int</sub>(<i>v</i>) and following <a class="c">Kelly (2007)</a> we formulate the error model</p></div>
  <div class="eq" style="left:61px;top:859px">μ<sub>i</sub> = μ<sub>int</sub>(v<sub>i</sub>) + ϵ<sub>i</sub> + ϵ<sub>int</sub>(v<sub>i</sub>),<span class="n">(6)</span></div>
  <div class="tx" style="left:61px;top:884px;height:236px"><p>where <i>ϵ<sub>i</sub></i> is a Gaussian-distributed random variate with mean equal to 0 and standard deviation equal to the distance modulus uncertainty of the <i>i</i>-th galaxy, <i>μ</i><sub>int</sub> is the local average and <i>ϵ</i><sub>int</sub>(<i>v<sub>i</sub></i>) is a Gaussian-distributed variate with mean equal to 0 and standard deviation <i>σ</i><sub>int</sub>(<i>v</i>), which is a <i>local intrinsic scatter</i> model. We apply a Maximum Likelihood Estimator (MLE) to calculate the local intrinsic scatter, <i>ϵ<sub>i</sub></i>(<i>v</i>). We note that the uncertainties on radial velocities have not been considered in our analysis as they are typically one order of magnitude smaller (~10 km s<sup>−1</sup>) than the optimal kernel bandwidth for both VC and nVC models (~100 km s<sup>−1</sup>) and the typical peculiar velocities of galaxies (~100 km s<sup>−1</sup>; e.g., <a class="c">Hawkins et al. 2003</a>).</p><p class="in">We apply the above Kernel Regression model to 617 Virgo galaxies and 182,326 nVC galaxies to derive their distances and uncertainties. Also, for 37 Virgo galaxies and 317 nVC galaxies</p></div>
  <div class="tx" style="left:434px;top:144px;height:189px"><p>with <i>z</i>-independent distances but no uncertainties, we apply the local intrinsic scatter model to estimate their uncertainty. We ensure that the two models are applied only to galaxies with radial velocities covered by the training data sets: <i>v</i><sub>vir</sub>∈ [−792 km s<sup>−1</sup>, 2764 km s<sup>−1</sup>] for VC and <i>v</i><sub>vir</sub>∈ [−481 km s<sup>−1</sup>, 14,033 km s<sup>−1</sup>] for nVC in order to avoid extrapolation (note that the ranges are expanded by half optimal bandwidth, <i>h</i><sub>min</sub>), leaving only 12 objects in the <i>HECATE</i> without distance estimates.</p><p class="in">For quick reference, in Appendix <a class="c">C</a> we provide empirical formulæ for the distance modulus of a galaxy <i>μ</i><sub>int</sub>, and its uncertainty <i>ϵ</i><sub>int</sub>, given its Virgo-infall corrected velocity, based on the results of the aforementioned methods.</p></div>
  <div class="hi" style="left:434px;top:362px">3.2.4&nbsp;&nbsp;&nbsp;&nbsp;Validation of the regression technique</div>
  <div class="tx" style="left:434px;top:386px;height:519px"><p>The resulting distances from the Kernel Regression technique described above should reflect the trends of the <i>z</i>-independent distances used in the <i>HECATE</i>, and converge to the Hubble-Lemaître law for large distances.</p><p class="in">The top panel of <a class="c">Figure 3</a> shows the distance moduli as a function of the radial velocity of the two subsamples: 273 Virgo Cluster galaxies and 15,294 non-Virgo galaxies. We see the local average and the 2<i>σ</i> confidence intervals in terms of local intrinsic scatter. The latter is shown independently in the middle panel of <a class="c">Figure 3</a>, where we observe that the accuracy of the non-VC model drops significantly for <i>v</i>≲1,500 km s<sup>−1</sup> as expected from the domination of the peculiar velocities over the Hubble-flow component. Conversely, the VC model presents a slight increase in the distance with increasing radial velocity, which is possibly due to the contamination from background galaxies in the EVCC. For the same reason, the uncertainty of the inferred distances at high radial velocities for VC members is higher than that at the low radial velocities.</p><p class="in">The convergence to the Hubble-Lemaître law is shown in the bottom panel of <a class="c">Figure 3</a>, where we plot the ratio of the local average model (<i>v</i><sub>vir</sub>; see §<a class="c">3.2.2</a>) to the Hubble flow distance, for <i>v</i><sub>vir</sub>∈ [200, 14,000] km s<sup>−1</sup>. Two different values of <i>H</i><sub>0</sub> are considered: 72 km s<sup>−1</sup> Mpc<sup>−1</sup> (HST Key Project; <a class="c">Freedman et al. 2001</a>) and 67.8 km s<sup>−1</sup> Mpc<sup>−1</sup> (<a class="c">Planck Collaboration 2016</a>). We see that the <i>z</i>-independent distances converge to the Hubble flow distances, and agree to the local Universe estimate of the Hubble constant (HST Key Project).</p><p class="in">Finally, we check the distance estimates in the <i>HECATE</i> against <i>CF3</i>. For 1,949 galaxies with <i>z</i>-dependent distances in the <i>HECATE</i>, but <i>z</i>-independent in <i>CF3</i>, we find agreement within the expected scatter from the regression model for 99% of the galaxies in common. Furthermore, the mean and median difference is 0.009 mag, and the scatter in the difference between the distance moduli from <i>CF3</i> and the one calculated in the regression model is 0.25 mag.</p></div>
  <div class="h" style="left:434px;top:938px">4&nbsp;&nbsp;&nbsp;MULTI-WAVELENGTH DATA AND STELLAR<br>&nbsp;&nbsp;&nbsp;&nbsp;&nbsp;POPULATION PARAMETERS</div>
  <div class="tx" style="left:434px;top:979px;height:142px"><p>One of the main objectives for the compilation of the <i>HECATE</i> is to provide stellar population parameters for galaxies in the local Universe. To do so, we obtain photometric and spectroscopic data by cross-correlating the <i>HECATE</i> with surveys from the infrared (IR) to the optical. In §<a class="c">4.1</a> we evaluate the required data to attain the most reliable galaxy properties and discuss the selection and cross-matching criteria for each survey. In §<a class="c">4.2</a> we describe the methodology we use for deriving the parameters from the associated multi-wavelength data.</p></div>
  <div class="foot" style="left:61px">MNRAS <b>000</b>, <a class="c">1</a>–<a class="c">20</a> (2020)</div>
</div>

<!-- FIGURES -->
<svg id="figs" width="4240" height="1200" style="position:absolute;left:0;top:0;pointer-events:none">
  <defs>
    <clipPath id="skyClip"><ellipse cx="2071" cy="301" rx="290" ry="145"/></clipPath>
    <filter id="fPurple" x="0" y="0" width="1" height="1">
      <feTurbulence type="fractalNoise" baseFrequency="0.28" numOctaves="2" seed="4"/>
      <feColorMatrix type="matrix" values="0 0 0 0 0.40  0 0 0 0 0.06  0 0 0 0 0.62  10 0 0 0 -5.4"/>
    </filter>
    <filter id="fMag" x="0" y="0" width="1" height="1">
      <feTurbulence type="fractalNoise" baseFrequency="0.3" numOctaves="2" seed="9"/>
      <feColorMatrix type="matrix" values="0 0 0 0 0.80  0 0 0 0 0.28  0 0 0 0 0.50  10 0 0 0 -5.5"/>
    </filter>
    <filter id="fYel" x="0" y="0" width="1" height="1">
      <feTurbulence type="fractalNoise" baseFrequency="0.22" numOctaves="2" seed="15"/>
      <feColorMatrix type="matrix" values="0 0 0 0 0.98  0 0 0 0 0.72  0 0 0 0 0.15  9 0 0 0 -4.4"/>
    </filter>
    <filter id="fWhite" x="0" y="0" width="1" height="1">
      <feTurbulence type="fractalNoise" baseFrequency="0.2" numOctaves="2" seed="21"/>
      <feColorMatrix type="matrix" values="0 0 0 0 1  0 0 0 0 1  0 0 0 0 1  12 0 0 0 -6.0"/>
    </filter>
    <linearGradient id="zoaGrad" x1="0" y1="0" x2="0" y2="1">
      <stop offset="0" stop-color="#fff" stop-opacity="0.12"/>
      <stop offset="0.3" stop-color="#fff" stop-opacity="0.3"/>
      <stop offset="0.44" stop-color="#fff" stop-opacity="1"/>
      <stop offset="0.58" stop-color="#fff" stop-opacity="1"/>
      <stop offset="0.72" stop-color="#fff" stop-opacity="0.3"/>
      <stop offset="1" stop-color="#fff" stop-opacity="0.12"/>
    </linearGradient>
    <mask id="zoaMask"><rect x="1780" y="156" width="584" height="292" fill="url(#zoaGrad)"/></mask>
    <linearGradient id="plasma" x1="0" y1="1" x2="0" y2="0">
      <stop offset="0" stop-color="#0d0887"/><stop offset="0.15" stop-color="#4c02a1"/>
      <stop offset="0.3" stop-color="#7e03a8"/><stop offset="0.45" stop-color="#a92395"/>
      <stop offset="0.55" stop-color="#cc4778"/><stop offset="0.7" stop-color="#e56b5d"/>
      <stop offset="0.82" stop-color="#f89540"/><stop offset="0.92" stop-color="#fdc328"/>
      <stop offset="1" stop-color="#f0f921"/>
    </linearGradient>
    <clipPath id="hubClip"><rect x="2652" y="150" width="282" height="155"/></clipPath>
    <clipPath id="insetClip"><rect x="2808" y="217" width="123" height="85"/></clipPath>
  </defs>
  <g id="skymap">
    <g clip-path="url(#skyClip)">
      <rect x="1780" y="156" width="584" height="292" fill="#ee8e3a"/>
      <rect x="1780" y="156" width="584" height="292" filter="url(#fYel)"/>
      <rect x="1780" y="156" width="584" height="292" filter="url(#fMag)"/>
      <rect x="1780" y="156" width="584" height="292" filter="url(#fPurple)"/>
      <g mask="url(#zoaMask)"><rect x="1780" y="156" width="584" height="292" filter="url(#fWhite)"/></g>
      <g id="skyGrid"></g>
    </g>
    <ellipse cx="2071" cy="301" rx="290" ry="145" fill="none" stroke="#111" stroke-width="1.2"/>
    <g id="skyLabels" font-family="Liberation Serif" font-size="11" fill="#222"></g>
    <rect x="2404" y="156" width="15" height="293" fill="url(#plasma)" stroke="#111" stroke-width="1"/>
    <g id="cbTicks" font-family="Liberation Serif" font-size="11" fill="#222"></g>
    <text x="0" y="0" transform="translate(2460,302) rotate(-90)" text-anchor="middle" font-family="Liberation Serif" font-size="11.5" fill="#222">Distance (Mpc)</text>
  </g>
  <g id="hubble"></g>
</svg>

<script>
// ---- Figure 1: sky map data ----
const latLines = [-60, -45, -30, 0, 30, 45, 60];
const latLabels = ["-60°", "-45°", "-30°", "0°", "30°", "45°", "60°"];
const lonLines = [-135, -90, -45, 0, 45, 90, 135];
const lonLabels = ["-135°", "-90°", "-45°", "0°", "45°", "90°", "135°", "180°"];
const lonLabelVals = [-135, -90, -45, 0, 45, 90, 135, 180];
const cbTicks = [0, 25, 50, 75, 100, 125, 150, 175, 200];

// ---- Figure 2: Hubble diagram data ----
const xTicks = [0, 2500, 5000, 7500, 10000, 12500];
const yTicks = [25, 30, 35];
const bandV  = [-350, -150, 100, 300, 500, 1000, 1500, 2000, 2500, 3500, 5000, 7500, 10000, 12500, 14100];
const bandHi = [25.2, 27.0, 29.5, 31.0, 32.0, 33.0, 33.7, 34.3, 34.6, 35.2, 35.9, 36.6, 37.0, 37.3, 37.4];
const bandLo = [24.2, 24.2, 24.3, 25.5, 27.0, 29.0, 30.2, 31.0, 31.8, 32.6, 33.5, 34.6, 35.2, 35.5, 35.4];
const lawV  = [60, 100, 200, 300, 500, 1000, 2000, 3000, 5000, 7500, 10000, 12500, 14000];
const lawMu = [24.73, 25.84, 27.35, 28.23, 29.34, 30.84, 32.35, 33.23, 34.34, 35.22, 35.84, 36.33, 36.57];
const outV  = [-700, -500, 300, 1500, 1800, 2400, 3000, 3300, 3600, 4100, 4400, 4800, 5200, 5600, 6000, 6500, 6900, 7300, 8100, 8700, 9500, 10200, 11000, 12000, 12600, 13300, 14000, 3900, 6600, 2200];
const outMu = [31.5, 30.4, 34.4, 35.9, 29.0, 35.6, 29.4, 30.5, 33.0, 31.0, 32.5, 27.9, 30.3, 30.8, 30.0, 37.8, 33.5, 36.9, 33.0, 37.6, 33.8, 37.7, 38.2, 38.1, 38.0, 37.9, 32.6, 30.9, 31.6, 35.2];
const virgoV  = [-700, -550, -400, -300, -200, -100, 0, 100, 200, 300, 400, 500, 600, 700, 800, 900, 1000, 1100, 1200, 1300, 1400, 1500, 1600, 1700, 1800, 1900, 2000, 2100, 2200, 2300, 2400, 2500, 2600, 2700, 2800, 500, 900, 1300, 1700, 2100, 2500, 800, 1200, 1600, 2000, 1000, 1400];
const virgoMu = [31.5, 31.3, 31.1, 31.4, 30.9, 31.2, 31.0, 31.3, 30.8, 31.1, 31.4, 30.9, 31.2, 31.0, 31.5, 31.1, 30.8, 31.3, 31.0, 31.2, 31.6, 31.1, 31.4, 30.9, 31.5, 31.8, 31.2, 32.0, 31.6, 32.3, 32.1, 32.6, 32.4, 32.9, 33.2, 30.5, 30.3, 30.6, 30.8, 31.0, 31.7, 31.9, 32.0, 32.2, 32.5, 30.2, 30.5];

const NS = "http://www.w3.org/2000/svg";
function mk(tag, attrs, parent) {
  const e = document.createElementNS(NS, tag);
  for (const k in attrs) e.setAttribute(k, attrs[k]);
  if (parent) parent.appendChild(e);
  return e;
}

const SX = 2071, SY = 301, RX = 290, RY = 145;
function mollTheta(latDeg) {
  const phi = latDeg * Math.PI / 180;
  if (Math.abs(latDeg) >= 90) return Math.sign(latDeg) * Math.PI / 2;
  let t = phi;
  for (let i = 0; i < 30; i++) {
    const f = 2 * t + Math.sin(2 * t) - Math.PI * Math.sin(phi);
    const d = 2 + 2 * Math.cos(2 * t);
    if (Math.abs(d) < 1e-9) break;
    t -= f / d;
  }
  return t;
}
function skyY(lat) { return SY - RY * Math.sin(mollTheta(lat)); }
function skyHalfW(lat) { return RX * Math.cos(mollTheta(lat)); }
function skyX(lon, lat) { return SX + RX * (lon / 180) * Math.cos(mollTheta(lat)); }

const grid = document.getElementById('skyGrid');
latLines.forEach(function (lat) {
  const y = skyY(lat), hw = skyHalfW(lat);
  const l = mk('line', {x1: SX - hw, x2: SX + hw, y1: y, y2: y, stroke: lat === 0 ? '#888' : '#222', 'stroke-width': lat === 0 ? 2 : 0.7}, grid);
  
  
});
lonLines.forEach(function (lon) {
  let d = '';
  for (let lat = -90; lat <= 90; lat += 5) {
    d += (lat === -90 ? 'M' : 'L') + skyX(lon, lat).toFixed(1) + ',' + skyY(lat).toFixed(1);
  }
  const p = mk('path', {d: d, fill: 'none', stroke: '#222', 'stroke-width': 0.6}, grid);
  
  
});
const skyLab = document.getElementById('skyLabels');
latLines.forEach(function (lat, i) {
  const y = skyY(lat), x = SX - skyHalfW(lat) - 4;
  const t = mk('text', {x: x, y: y + 4, 'text-anchor': 'end'}, skyLab);
  t.textContent = latLabels[i];
  
  
});
lonLabelVals.forEach(function (lon, i) {
  const x = skyX(lon, 0) + (lon === 180 ? 6 : 4), y = SY + 4;
  const t = mk('text', {x: 0, y: 0, transform: 'translate(' + x + ',' + y + ') rotate(90)', 'font-size': 10}, skyLab);
  t.textContent = lonLabels[i];
  
  
});
const cbG = document.getElementById('cbTicks');
function cbY(v) { return 449 - (v / 200) * 293; }
cbTicks.forEach(function (v) {
  const y = cbY(v);
  const tk = mk('line', {x1: 2419, x2: 2423, y1: y, y2: y, stroke: '#111', 'stroke-width': 1}, cbG);
  
  
  const t = mk('text', {x: 2427, y: y + 4}, cbG);
  t.textContent = v;
  
  
});

const HX0 = 2652, HX1 = 2934, HY0 = 150, HY1 = 305;
function hx(v) { return 2680 + v * 0.01755; }
function hy(mu) { return 241 - (mu - 30) * 10.2; }
function ix(v) { return 2808 + (v + 855) / (3134 + 855) * 123; }
function iy(mu) { return 302 - (mu - 28.8) / (34.2 - 28.8) * 85; }
const hub = document.getElementById('hubble');
function bandPath(fx, fy) {
  let d = '';
  bandV.forEach(function (v, i) { d += (i ? 'L' : 'M') + fx(v).toFixed(1) + ',' + fy(bandHi[i]).toFixed(1); });
  for (let i = bandV.length - 1; i >= 0; i--) d += 'L' + fx(bandV[i]).toFixed(1) + ',' + fy(bandLo[i]).toFixed(1);
  return d + 'Z';
}
const mainG = mk('g', {'clip-path': 'url(#hubClip)'}, hub);
const band = mk('path', {d: bandPath(hx, hy), fill: '#0a0a0a', stroke: '#0a0a0a', 'stroke-width': 2.5, 'stroke-linejoin': 'round'}, mainG);


outV.forEach(function (v, i) {
  const c = mk('circle', {cx: hx(v), cy: hy(outMu[i]), r: 0.9, fill: '#000'}, mainG);
  
  
});
let ld = '';
lawV.forEach(function (v, i) { ld += (i ? 'L' : 'M') + hx(v).toFixed(1) + ',' + hy(lawMu[i]).toFixed(1); });
const law = mk('path', {d: ld, fill: 'none', stroke: '#1fa882', 'stroke-width': 1.8}, mainG);


const zr = mk('rect', {x: hx(-855), y: hy(34.2), width: hx(3134) - hx(-855), height: hy(28.8) - hy(34.2), fill: 'none', stroke: '#aaa', 'stroke-width': 1}, hub);


const c1 = mk('line', {x1: hx(3134), y1: hy(34.2), x2: 2931, y2: 217, stroke: '#aaa', 'stroke-width': 1}, hub);


const c2 = mk('line', {x1: hx(-855), y1: hy(28.8), x2: 2808, y2: 302, stroke: '#aaa', 'stroke-width': 1}, hub);


const insBg = mk('rect', {x: 2808, y: 217, width: 123, height: 85, fill: '#fff'}, hub);


const insG = mk('g', {'clip-path': 'url(#insetClip)'}, hub);
const ib = mk('path', {d: bandPath(ix, iy), fill: '#0a0a0a', stroke: '#0a0a0a', 'stroke-width': 3, 'stroke-linejoin': 'round'}, insG);


virgoV.forEach(function (v, i) {
  const c = mk('circle', {cx: ix(v), cy: iy(virgoMu[i]), r: 1.1, fill: '#e07b1a'}, insG);
  
  
});
const insFrame = mk('rect', {x: 2808, y: 217, width: 123, height: 85, fill: 'none', stroke: '#111', 'stroke-width': 1.5}, hub);


const frame = mk('rect', {x: HX0, y: HY0, width: HX1 - HX0, height: HY1 - HY0, fill: 'none', stroke: '#111', 'stroke-width': 1.6}, hub);


xTicks.forEach(function (v) {
  const x = hx(v);
  const tk = mk('line', {x1: x, x2: x, y1: HY1, y2: HY1 + 4, stroke: '#111'}, hub);
  
  
  const t = mk('text', {x: x, y: 327, 'text-anchor': 'middle', 'font-family': 'Liberation Serif', 'font-size': 11.5, fill: '#333'}, hub);
  t.textContent = v;
  
  
});
yTicks.forEach(function (m) {
  const y = hy(m);
  const tk = mk('line', {x1: HX0 - 4, x2: HX0, y1: y, y2: y, stroke: '#111'}, hub);
  
  
  const t = mk('text', {x: HX0 - 7, y: y + 4, 'text-anchor': 'end', 'font-family': 'Liberation Serif', 'font-size': 11.5, fill: '#333'}, hub);
  t.textContent = m;
  
  
});
const xt = mk('text', {x: 2793, y: 346, 'text-anchor': 'middle', 'font-family': 'Liberation Serif', 'font-size': 12.5, fill: '#333'}, hub);
xt.innerHTML = 'Virgo-infall corrected velocity, <tspan font-style="italic">v</tspan><tspan font-size="9" dy="2">vir</tspan><tspan dy="-2"> (km s</tspan><tspan font-size="8" dy="-4">−1</tspan><tspan dy="4">)</tspan>';


const yt = mk('text', {x: 0, y: 0, transform: 'translate(2618,228) rotate(-90)', 'text-anchor': 'middle', 'font-family': 'Liberation Serif', 'font-size': 12.5, fill: '#333'}, hub);
yt.textContent = 'Distance modulus (mag)';


</script>
</body></html>
